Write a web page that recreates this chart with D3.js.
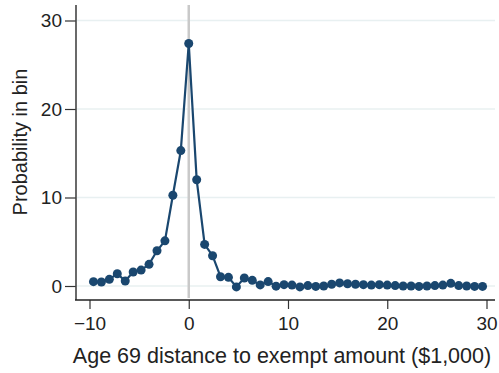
<!DOCTYPE html>
<html>
<head>
<meta charset="utf-8">
<script src="https://cdn.jsdelivr.net/npm/d3@7"></script>
<style>
  html, body { margin: 0; padding: 0; background: #fff; }
  svg { display: block; font-family: "Liberation Sans", Arial, Helvetica, sans-serif; }
</style>
</head>
<body>
<svg id="chart" width="499" height="373"></svg>
<script>
// Bin centres (in $1,000) and the share of observations in each bin (%)
const binCenters = [
  -9.6, -8.8, -8.0, -7.2, -6.4, -5.6, -4.8, -4.0, -3.2, -2.4, -1.6, -0.8,
  0.0, 0.8, 1.6, 2.4, 3.2, 4.0, 4.8, 5.6, 6.4, 7.2, 8.0, 8.8, 9.6,
  10.4, 11.2, 12.0, 12.8, 13.6, 14.4, 15.2, 16.0, 16.8, 17.6, 18.4, 19.2,
  20.0, 20.8, 21.6, 22.4, 23.2, 24.0, 24.8, 25.6, 26.4, 27.2, 28.0, 28.8, 29.6
];
const probability = [
  0.49, 0.45, 0.75, 1.39, 0.56, 1.58, 1.80, 2.45, 3.98, 5.10, 10.26, 15.3,
  27.4, 12.0, 4.7, 3.42, 1.05, 0.98, -0.10, 0.90, 0.64, 0.12, 0.50, -0.02, 0.15,
  0.10, -0.10, 0.05, -0.05, 0.00, 0.20, 0.35, 0.25, 0.20, 0.15, 0.10, 0.15,
  0.10, 0.05, 0.00, 0.00, -0.05, 0.00, 0.05, 0.10, 0.30, 0.05, 0.00, -0.05, -0.05
];
const xTicks = [-10, 0, 10, 20, 30];
const yTicks = [0, 10, 20, 30];
const xTitle = "Age 69 distance to exempt amount ($1,000)";
const yTitle = "Probability in bin";

const svg = d3.select("#chart");
const navy = "#1a476f";
const tickFont = 19;

const x = d3.scaleLinear().domain([-10, 30]).range([89.5, 486.5]);
const y = d3.scaleLinear().domain([0, 30]).range([286, 20.5]);

const plotLeft = 76, plotRight = 495, plotTop = 5, plotBottom = 300;

// horizontal gridlines
svg.append("g")
  .selectAll("line")
  .data(yTicks)
  .join("line")
  .attr("x1", plotLeft + 1).attr("x2", plotRight)
  .attr("y1", d => y(d)).attr("y2", d => y(d))
  .attr("stroke", "#e8f0f1").attr("stroke-width", 1.5);

// reference line at zero distance
svg.append("line")
  .attr("x1", x(0)).attr("x2", x(0))
  .attr("y1", plotTop).attr("y2", plotBottom - 2)
  .attr("stroke", "#c9c9c9").attr("stroke-width", 2.5);

// y axis
const yAxis = d3.axisLeft(y).tickValues(yTicks).tickSize(11).tickPadding(3)
  .tickFormat(d3.format("d"));
const gy = svg.append("g").attr("transform", `translate(${plotLeft},0)`).call(yAxis);
gy.select(".domain").remove();
gy.selectAll(".tick line").attr("stroke", "#333").attr("stroke-width", 1.2);
gy.selectAll(".tick text").attr("font-size", tickFont).attr("fill", "#222")
  .attr("font-family", "'Liberation Sans', Arial, sans-serif");
svg.append("line")
  .attr("x1", plotLeft).attr("x2", plotLeft)
  .attr("y1", plotTop).attr("y2", plotBottom)
  .attr("stroke", "#444").attr("stroke-width", 1.6);

// x axis
const xAxis = d3.axisBottom(x).tickValues(xTicks).tickSize(9).tickPadding(8)
  .tickFormat(d => d < 0 ? "\u2212" + Math.abs(d) : String(d));
const gx = svg.append("g").attr("transform", `translate(0,${plotBottom})`).call(xAxis);
gx.select(".domain").remove();
gx.selectAll(".tick line").attr("stroke", "#333").attr("stroke-width", 1.2);
gx.selectAll(".tick text").attr("font-size", tickFont).attr("fill", "#222")
  .attr("font-family", "'Liberation Sans', Arial, sans-serif");
svg.append("line")
  .attr("x1", plotLeft - 1).attr("x2", plotRight)
  .attr("y1", plotBottom).attr("y2", plotBottom)
  .attr("stroke", "#222").attr("stroke-width", 1.4);

// connected series
const points = binCenters.map((b, i) => ({ b, p: probability[i] }));
svg.append("path")
  .datum(points)
  .attr("fill", "none")
  .attr("stroke", navy)
  .attr("stroke-width", 2.2)
  .attr("d", d3.line().x(d => x(d.b)).y(d => y(d.p)));

svg.append("g")
  .selectAll("circle")
  .data(points)
  .join("circle")
  .attr("cx", d => x(d.b))
  .attr("cy", d => y(d.p))
  .attr("r", 4.5)
  .attr("fill", navy);

// axis titles
svg.append("text")
  .attr("x", 282).attr("y", 363)
  .attr("text-anchor", "middle")
  .attr("font-size", 21.5).attr("fill", "#222")
  .text(xTitle);

svg.append("text")
  .attr("transform", "translate(27,142) rotate(-90)")
  .attr("text-anchor", "middle")
  .attr("font-size", 20).attr("fill", "#222")
  .text(yTitle);
</script>
</body>
</html>
